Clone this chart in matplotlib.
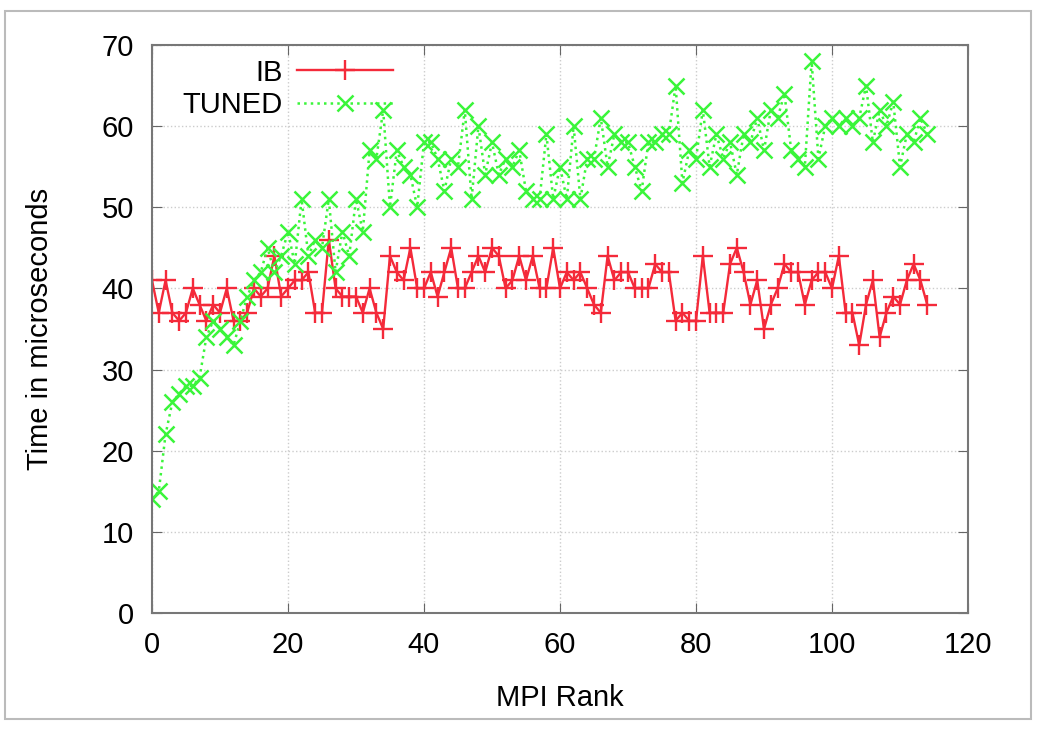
import matplotlib
matplotlib.use('Agg')
import matplotlib.pyplot as plt
from matplotlib.patches import Rectangle

plt.rcParams['font.family'] = ['Liberation Sans', 'DejaVu Sans']

# MPI rank vs. time (microseconds)
ranks = list(range(115))

ib = [41, 37, 41, 37, 36, 37, 40, 38, 36, 38, 37, 40, 36, 36, 37, 40, 39, 40, 44, 39,
      40, 41, 41, 42, 37, 37, 46, 40, 39, 39, 39, 37, 40, 37, 35, 44, 42, 41, 45, 40,
      40, 42, 39, 42, 45, 40, 40, 42, 44, 42, 45, 44, 40, 41, 44, 41, 44, 40, 40, 45,
      40, 42, 41, 42, 40, 38, 37, 44, 41, 42, 42, 40, 40, 40, 43, 42, 42, 36, 37, 36,
      36, 44, 37, 37, 37, 43, 45, 42, 38, 41, 35, 38, 40, 43, 42, 42, 38, 41, 42, 42,
      40, 44, 37, 37, 33, 38, 41, 34, 37, 39, 38, 41, 43, 41, 38]

tuned = [14, 15, 22, 26, 27, 28, 28, 29, 34, 36, 35, 34, 33, 36, 39, 41, 42, 45, 42, 44,
         47, 43, 51, 44, 46, 45, 51, 42, 47, 44, 51, 47, 57, 56, 62, 50, 57, 55, 54, 50,
         58, 58, 56, 52, 56, 55, 62, 51, 60, 54, 58, 54, 56, 55, 57, 52, 51, 51, 59, 51,
         55, 51, 60, 51, 56, 56, 61, 55, 59, 58, 58, 55, 52, 58, 58, 59, 59, 65, 53, 57,
         56, 62, 55, 59, 56, 58, 54, 59, 58, 61, 57, 62, 61, 64, 57, 56, 55, 68, 56, 60,
         61, 60, 61, 60, 61, 65, 58, 62, 60, 63, 55, 59, 58, 61, 59]

fig = plt.figure(figsize=(10.38, 7.49), dpi=100)
ax = fig.add_axes([0.1464, 0.1816, 0.7862, 0.7584])

ax.plot(ranks, ib, color='#f42a3a', lw=1.7, marker='+', ms=14, mew=1.7, label='IB')
ax.plot(ranks, tuned, color='#3af53a', lw=1.8, ls=':', marker='x', ms=12, mew=1.8,
        label='TUNED')

ax.set_xlim(0, 120)
ax.set_ylim(0, 70)
ax.set_xticks(range(0, 121, 20))
ax.set_yticks(range(0, 71, 10))
ax.grid(True, color='#cccccc', ls=':', lw=1)
ax.tick_params(direction='in', top=True, right=True, length=7, labelsize=21,
               color='#666666', pad=13)
for s in ax.spines.values():
    s.set_color('#777777')
    s.set_linewidth(1.5)

ax.set_xlabel('MPI Rank', fontsize=21, labelpad=18)
ax.set_ylabel('Time in microseconds', fontsize=21, labelpad=34)

ax.legend(loc='upper left', bbox_to_anchor=(0.005, 1.022), frameon=False, fontsize=21,
          markerfirst=False, handlelength=3.3, handletextpad=0.5, labelspacing=0.15)

# screenshot border
fig.patches.append(Rectangle((0.005, 0.04), 0.988, 0.945, transform=fig.transFigure,
                             fill=False, edgecolor='#bbbbbb', lw=1.5))

fig.savefig('out.png', dpi=100)
